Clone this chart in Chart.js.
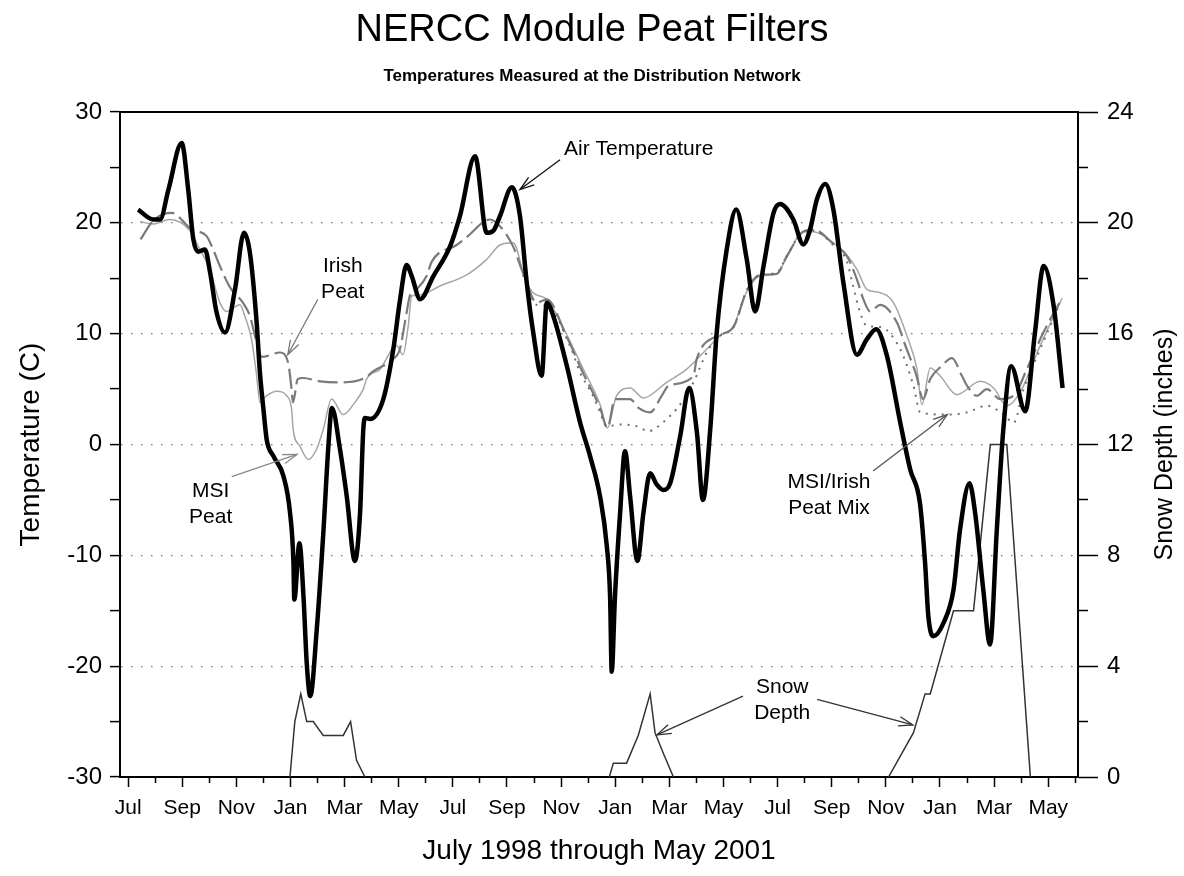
<!DOCTYPE html>
<html>
<head>
<meta charset="utf-8">
<title>NERCC Module Peat Filters</title>
<script src="https://cdn.jsdelivr.net/npm/chart.js@4.4.1/dist/chart.umd.min.js"></script>
<style>
  html, body { margin: 0; padding: 0; background: #fff; }
  #chart { display: block; }
</style>
</head>
<body>
<canvas id="chart" width="1184" height="876"></canvas>
<script>
// months counted from 1 Jul 1998 (0 = Jul 1998, 12 = Jul 1999, ...)
const monthLabels = ['Jul', 'Sep', 'Nov', 'Jan', 'Mar', 'May',
                     'Jul', 'Sep', 'Nov', 'Jan', 'Mar', 'May',
                     'Jul', 'Sep', 'Nov', 'Jan', 'Mar', 'May'];

const airMonth = [0.37, 0.93, 1.18, 1.49, 1.98, 2.22, 2.41, 2.59, 2.84, 3.03, 3.27, 3.58, 3.95, 4.28, 4.5, 4.75,
  4.87, 5.0, 5.12, 5.37, 5.74, 5.98, 6.11, 6.14, 6.33, 6.48, 6.6, 6.73, 6.97, 7.22, 7.4, 7.53, 7.83, 8.08, 8.38,
  8.57, 8.69, 8.75, 8.94, 9.43, 9.8, 10.05, 10.29, 10.48, 10.79, 11.28, 11.9, 12.26, 12.82, 13.25, 13.5, 13.74,
  14.18, 14.48, 14.73, 14.97, 15.28, 15.47, 15.71, 16.21, 16.7, 17.07, 17.44, 17.69, 17.81, 17.87, 17.99, 18.18,
  18.36, 18.55, 18.82, 19.04, 19.29, 19.53, 19.78, 20.03, 20.4, 20.73, 21.02, 21.24, 21.51, 21.75, 22.12, 22.47,
  22.86, 23.17, 23.48, 23.85, 24.09, 24.58, 24.95, 25.2, 25.45, 25.76, 26.06, 26.43, 26.93, 27.3, 27.64, 28.04,
  28.53, 28.9, 29.26, 29.45, 29.57, 29.76, 30.13, 30.5, 30.74, 31.09, 31.3, 31.6, 31.85, 32.1, 32.34, 32.63,
  33.15, 33.51, 33.83, 34.2, 34.53];
const airTemp = [21.2, 20.3, 20.3, 23.0, 27.2, 23.0, 18.5, 17.4, 17.6, 15.5, 11.9, 10.1, 14.0, 19.1, 17.3, 11.0,
  6.5, 3.2, 0.45, -1.05, -2.85, -6.1, -10.7, -14.0, -8.9, -13.7, -19.7, -22.7, -16.7, -7.7, -0.15, 3.3, -0.45, -4.7, -10.5,
  -6.2, 1.35, 2.4, 2.3, 4.1, 8.6, 13.1, 16.2, 15.2, 13.1, 15.2, 17.9, 20.6, 26.0, 19.1, 19.3, 20.6,
  23.2, 20.6, 14.6, 10.1, 6.2, 12.8, 11.6, 7.1, 2.0, -1.05, -4.7, -9.2, -13.7, -20.5, -13.7, -6.2,
  -0.6, -4.7, -10.5, -6.2, -2.6, -3.6, -4.1, -3.5, 0.75, 5.1, 1.05, -5.0, 1.35, 10.1, 17.6, 21.2,
  16.7, 12.0, 16.1, 20.9, 21.7, 20.3, 18.05, 19.4, 22.1, 23.5, 21.2, 14.6, 8.1, 9.5, 10.4, 8.0,
  2.0, -2.25, -5.3, -10.7, -15.5, -17.3, -16.1, -13.1, -7.7, -3.5, -6.2, -13.1, -18.05, -7.7, 1.35, 7.07,
  3.0, 10.1, 16.1, 12.5, 5.1];

const irishMonth = [0.46, 0.93, 1.6, 2.35, 2.9, 3.14, 3.39, 3.76, 4.24, 4.5, 4.72, 4.94, 5.61, 5.91, 6.04, 6.09,
  6.27, 6.46, 7.09, 7.83, 8.75, 9.05, 9.79, 10.04, 10.29, 10.41, 10.66, 11.03, 11.22, 12.14, 12.51, 13.37, 13.74,
  14.22, 14.59, 15.1, 15.47, 16.21, 16.82, 17.44, 17.71, 17.99, 18.55, 18.86, 19.29, 19.72, 19.97, 20.89, 21.01,
  21.75, 22.37, 22.86, 23.35, 23.97, 24.34, 24.95, 25.32, 26.06, 26.56, 26.93, 27.17, 27.42, 27.79, 28.41, 28.71,
  29.12, 29.38, 29.64, 30.07, 30.44, 30.81, 31.0, 31.36, 31.73, 32.22, 32.72, 33.21, 33.82, 34.51];
const irishTemp = [18.5, 20.2, 20.9, 19.4, 18.8, 17.6, 16.1, 14.2, 12.8, 11.6, 9.5, 7.9, 8.3, 7.4, 5.0, 3.8,
  5.9, 6.0, 5.7, 5.6, 6.0, 6.6, 7.7, 8.6, 11.9, 13.4, 14.0, 15.2, 16.5, 18.0, 18.7, 20.3, 19.7,
  17.9, 15.5, 12.8, 13.1, 9.7, 6.4, 3.3, 1.5, 4.1, 4.1, 3.3, 2.9, 4.4, 5.3, 6.2, 7.7,
  9.8, 10.6, 13.9, 15.3, 15.4, 17.0, 19.2, 19.4, 18.1, 17.0, 14.9, 13.1, 12.0, 12.6, 11.0, 9.0,
  6.3, 4.1, 5.9, 7.1, 7.8, 6.2, 5.3, 4.4, 5.0, 4.1, 4.4, 6.8, 10.1, 13.2];

const msiMonth = [0.44, 0.92, 1.54, 2.28, 2.65, 3.02, 3.39, 3.64, 4.13, 4.31, 4.56, 4.75, 4.87, 5.12, 5.49, 5.86,
  6.04, 6.1, 6.35, 6.66, 6.96, 7.21, 7.52, 7.95, 8.38, 8.69, 8.81, 9.31, 9.92, 10.16, 10.35, 10.48, 10.79, 11.52,
  12.51, 13.25, 13.74, 14.23, 14.67, 14.96, 15.47, 16.21, 16.82, 17.44, 17.71, 18.05, 18.55, 19.04, 19.9, 20.64,
  21.26, 21.87, 22.37, 22.86, 23.35, 23.97, 24.34, 24.95, 25.32, 26.06, 26.56, 26.93, 27.3, 27.79, 28.28, 28.78,
  29.15, 29.33, 29.64, 30.0, 30.62, 31.49, 31.98, 32.47, 32.96, 33.7, 34.51];
const msiTemp = [20.1, 19.9, 20.3, 19.3, 17.6, 15.8, 12.8, 12.0, 12.6, 11.6, 9.5, 6.2, 3.8, 4.4, 4.8, 4.4,
  3.2, 1.35, -0.15, -1.35, -0.45, 1.35, 4.1, 2.7, 3.8, 5.0, 5.9, 6.8, 8.9, 8.1, 10.7, 13.4, 13.5, 14.3,
  15.3, 16.7, 18.0, 18.2, 14.9, 13.7, 13.1, 9.9, 6.8, 3.6, 1.5, 4.4, 5.1, 4.2, 5.6, 6.8,
  8.3, 9.8, 10.7, 13.8, 15.2, 15.4, 16.9, 19.2, 19.2, 18.2, 17.1, 15.8, 14.0, 13.7, 12.8, 9.8,
  6.8, 3.6, 6.9, 6.2, 4.5, 5.7, 5.1, 3.5, 4.7, 8.9, 13.2];

const mixMonth = [14.59, 15.1, 15.47, 16.33, 16.7, 17.18, 17.44, 17.69, 18.18, 18.8, 19.23, 19.6, 19.9, 20.27,
  20.89, 21.38, 21.87, 22.37, 22.86, 23.35, 23.97, 24.34, 24.95, 25.32, 26.06, 26.56, 26.79, 27.05, 27.3, 27.79,
  28.53, 29.02, 29.27, 30.26, 31.0, 31.73, 32.35, 32.72, 33.09, 33.7, 34.44];
const mixTemp = [15.3, 12.6, 12.5, 8.9, 6.5, 4.4, 2.9, 1.65, 1.8, 1.65, 1.2, 1.65, 2.3, 3.2,
  5.6, 8.3, 9.8, 10.6, 13.9, 15.3, 15.5, 17.0, 19.2, 19.3, 18.0, 16.5, 14.3, 11.9, 10.7, 10.6,
  8.6, 5.3, 2.9, 2.7, 2.9, 3.5, 2.7, 1.95, 5.0, 8.6, 12.8];

// snow depth in inches, null separates the winters
const snowMonth = [5.98, 6.16, 6.38, 6.6, 6.84, 7.21, 7.95, 8.22, 8.44, 8.75, 13,
  17.78, 17.93, 18.42, 18.85, 19.29, 19.47, 19.78, 20.15, 24,
  28.1, 29.02, 29.45, 29.64, 30.5, 31.24, 31.86, 32.47, 33.34];
const snowDepth = [0, 2, 3, 2, 2, 1.5, 1.5, 2, 0.6, 0, null,
  0, 0.5, 0.5, 1.5, 3, 1.6, 0.85, 0, null,
  0, 1.6, 3, 3, 6, 6, 12, 12, 0];

function pairs(xs, ys) {
  return xs.map((v, i) => ({ x: v, y: ys[i] }));
}

let monthTicks = [];
for (let m = 0; m <= 35; m++) monthTicks.push(m);

const FONT = '"Liberation Sans", Arial, Helvetica, sans-serif';
Chart.defaults.font.family = FONT;
Chart.defaults.color = '#000';

// text notes with arrows, placed in (month, temperature) units
const notes = [
  { lines: ['Air Temperature'], at: [18.87, 26.6], from: [15.96, 25.7], to: [14.48, 23.0], color: '#111' },
  { lines: ['Irish', 'Peat'], at: [7.93, 16.1], from: [7.01, 13.1], to: [5.9, 8.1], color: '#777' },
  { lines: ['MSI', 'Peat'], at: [3.05, -4.2], from: [3.83, -2.9], to: [6.24, -0.9], color: '#888' },
  { lines: ['MSI/Irish', 'Peat Mix'], at: [25.9, -3.4], from: [27.53, -2.4], to: [30.27, 2.7], color: '#555' },
  { lines: ['Snow', 'Depth'], at: [24.17, -21.9], from: [22.72, -22.7], to: [19.54, -26.2], color: '#333' },
  { lines: [], at: [24.17, -21.9], from: [25.46, -23.0], to: [29.0, -25.3], color: '#333' }
];

function arrow(ctx, x1, y1, x2, y2, color) {
  ctx.strokeStyle = color;
  ctx.lineWidth = 1.3;
  ctx.beginPath();
  ctx.moveTo(x1, y1);
  ctx.lineTo(x2, y2);
  ctx.stroke();
  let a = Math.atan2(y2 - y1, x2 - x1);
  let L = 15, s = 0.32;
  ctx.beginPath();
  ctx.moveTo(x2 - L * Math.cos(a - s), y2 - L * Math.sin(a - s));
  ctx.lineTo(x2, y2);
  ctx.lineTo(x2 - L * Math.cos(a + s), y2 - L * Math.sin(a + s));
  ctx.stroke();
}

const notesPlugin = {
  id: 'notes',
  afterDraw(c) {
    let ctx = c.ctx;
    let sx = c.scales.x, sy = c.scales.y;
    ctx.save();
    ctx.font = '21px ' + FONT;
    ctx.fillStyle = '#000';
    ctx.textAlign = 'center';
    ctx.textBaseline = 'middle';
    notes.forEach(n => {
      n.lines.forEach((t, i) => {
        ctx.fillText(t, sx.getPixelForValue(n.at[0]), sy.getPixelForValue(n.at[1]) + i * 26);
      });
      arrow(ctx, sx.getPixelForValue(n.from[0]), sy.getPixelForValue(n.from[1]),
        sx.getPixelForValue(n.to[0]), sy.getPixelForValue(n.to[1]), n.color);
    });

    // right axis title reads bottom to top
    let a = c.chartArea;
    ctx.translate(c.width - 19, (a.top + a.bottom) / 2);
    ctx.rotate(-Math.PI / 2);
    ctx.font = '25px ' + FONT;
    ctx.fillText('Snow Depth (inches)', 0, 0);
    ctx.restore();
  }
};

let chart = new Chart(document.getElementById('chart'), {
  type: 'line',
  data: {
    datasets: [
      { label: 'Air Temperature', data: pairs(airMonth, airTemp), yAxisID: 'y',
        borderColor: '#000', borderWidth: 4.5, cubicInterpolationMode: 'monotone' },
      { label: 'Snow Depth', data: pairs(snowMonth, snowDepth), yAxisID: 'y2',
        borderColor: '#333', borderWidth: 1.5, tension: 0, spanGaps: false },
      { label: 'MSI/Irish Peat Mix', data: pairs(mixMonth, mixTemp), yAxisID: 'y',
        borderColor: '#6e6e6e', borderWidth: 2, borderDash: [2, 6], cubicInterpolationMode: 'monotone' },
      { label: 'Irish Peat', data: pairs(irishMonth, irishTemp), yAxisID: 'y',
        borderColor: '#7a7a7a', borderWidth: 2.2, borderDash: [20, 6], cubicInterpolationMode: 'monotone' },
      { label: 'MSI Peat', data: pairs(msiMonth, msiTemp), yAxisID: 'y',
        borderColor: '#a6a6a6', borderWidth: 1.5, cubicInterpolationMode: 'monotone' }
    ]
  },
  options: {
    responsive: false,
    animation: false,
    devicePixelRatio: 1,
    elements: { point: { radius: 0, hoverRadius: 0 } },
    layout: { padding: 0 },
    plugins: {
      legend: { display: false },
      tooltip: { enabled: false },
      title: {
        display: true, text: 'NERCC Module Peat Filters', color: '#000',
        font: { size: 38, weight: 'normal' }, padding: { top: 8, bottom: 4 }
      },
      subtitle: {
        display: true, text: 'Temperatures Measured at the Distribution Network', color: '#000',
        font: { size: 17, weight: 'bold' }, padding: { top: 9, bottom: 25 }
      }
    },
    scales: {
      x: {
        type: 'linear', position: 'bottom', min: -0.3, max: 35.1,
        afterBuildTicks: s => { s.ticks = monthTicks.map(v => ({ value: v })); },
        afterFit: s => { s.height = 99; },
        ticks: {
          autoSkip: false, maxRotation: 0, padding: 9, color: '#000', font: { size: 21 },
          callback: v => (v % 2 === 0 ? monthLabels[v / 2] : '')
        },
        grid: {
          drawOnChartArea: false, tickLength: 10, tickColor: '#000', tickWidth: 1.5,
          tickBorderDash: c => (c.tick && c.tick.value % 2 ? [5, 40] : [])
        },
        border: { color: '#000', width: 2 },
        title: {
          display: true, text: 'July 1998 through May 2001', color: '#000',
          font: { size: 28 }, padding: { top: 0, bottom: 8 }
        }
      },
      xt: {
        type: 'linear', position: 'top', min: -0.3, max: 35.1,
        afterFit: s => { s.height = 0; },
        ticks: { display: false },
        grid: { drawOnChartArea: false, drawTicks: false },
        border: { color: '#000', width: 2 }
      },
      y: {
        type: 'linear', position: 'left', min: -30, max: 30,
        afterFit: s => { s.width = 120; },
        ticks: {
          stepSize: 5, padding: 8, color: '#000', font: { size: 24 },
          callback: v => (v % 10 === 0 ? String(v) : '')
        },
        grid: {
          tickLength: 10, tickColor: '#000', tickWidth: 1.5, lineWidth: 1.2,
          color: c => (c.tick && c.tick.value % 10 === 0 && Math.abs(c.tick.value) < 30 ? '#777' : 'rgba(0,0,0,0)')
        },
        border: { color: '#000', width: 2, dash: [1.5, 8.5] },
        title: {
          display: true, text: 'Temperature (C)', color: '#000',
          font: { size: 28 }, padding: { top: 14, bottom: 0 }
        }
      },
      y2: {
        type: 'linear', position: 'right', min: 0, max: 24,
        afterFit: s => { s.width = 106; },
        ticks: {
          stepSize: 1, padding: 9, color: '#000', font: { size: 24 },
          callback: v => (v % 4 === 0 ? String(v) : '')
        },
        grid: {
          drawOnChartArea: false, tickLength: 20, tickColor: '#000', tickWidth: 1.5,
          tickBorderDash: c => (c.tick && c.tick.value % 4 ? [9, 40] : [])
        },
        border: { color: '#000', width: 2 }
      }
    }
  },
  plugins: [notesPlugin]
});
</script>
</body>
</html>
